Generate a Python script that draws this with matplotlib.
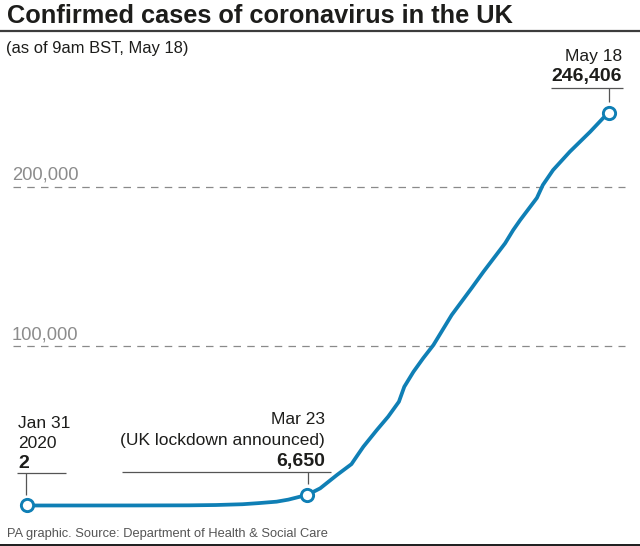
import matplotlib
matplotlib.use("Agg")
import matplotlib.pyplot as plt

plt.rcParams['font.family'] = ['Liberation Sans', 'DejaVu Sans']

# days since Jan 31 2020
days = [0, 10, 20, 30, 35, 40, 43, 46.3, 48.5, 50.6, 52, 54.4, 57.5, 60.2, 61.2, 62.4, 64.9, 67, 69, 70, 71.7,
        73.5, 75.4, 78.8, 82.5, 84.7, 88.7, 90.2, 91.5, 94.6, 95.7, 97.6, 100.7, 104.5, 106.9, 108]
cases = [2, 10, 30, 100, 300, 800, 1500, 2400, 3700, 5500, 6650, 10800, 19160, 26000, 31000, 36900, 47400, 55800,
         65200, 74600, 84000, 92500, 100800, 119700, 136600, 146900, 164700, 173000, 179300,
         193200, 201300, 210700, 222200, 234800, 243400, 246406]
marker_days = [0, 52, 108]
marker_cases = [2, 6650, 246406]
grid_values = [100000, 200000]
grid_labels = ["100,000", "200,000"]

BLUE = "#0f7fb5"
DARK = "#1d1d1b"
GREY = "#8c8c8c"
W, H = 640, 546
X0, PX_DAY = 27.0, 5.39
Y0, PX_K = 505.5, 1.592

fig = plt.figure(figsize=(W / 100, H / 100), dpi=100, facecolor="white")
ax = fig.add_axes([0, 0, 1, 1])
ax.set_xlim((0 - X0) / PX_DAY, (W - X0) / PX_DAY)
ax.set_ylim((Y0 - H) / PX_K * 1000, Y0 / PX_K * 1000)
ax.axis("off")

for g in grid_values:
    ax.plot([(13 - X0) / PX_DAY, (625 - X0) / PX_DAY], [g, g], color="#8a8a8a", lw=0.9,
            dashes=(6, 5), zorder=1)
ax.plot(days, cases, color=BLUE, lw=2.7, solid_capstyle="round", solid_joinstyle="round", zorder=3)
ax.plot(marker_days, marker_cases, ls="none", marker="o", ms=8.8, mfc="white", mec=BLUE, mew=2.1, zorder=4)

# overlay in pixel coordinates for chrome
ov = fig.add_axes([0, 0, 1, 1], facecolor="none")
ov.set_xlim(0, W)
ov.set_ylim(H, 0)
ov.axis("off")

ov.text(7, 23, "Confirmed cases of coronavirus in the UK", fontsize=18.3, fontweight="bold",
        color=DARK, va="baseline", ha="left")
ov.plot([0, W], [30.5, 30.5], color="#3c3c3c", lw=1.6, solid_capstyle="butt")
ov.text(6, 53, "(as of 9am BST, May 18)", fontsize=11.9, color=DARK, va="baseline", ha="left")

ov.text(12, 180, grid_labels[1], fontsize=13.2, color=GREY, va="baseline", ha="left")
ov.text(12, 340, grid_labels[0], fontsize=13.2, color=GREY, va="baseline", ha="left")

line_c = "#555555"
for xs, ys in [([17, 66], [472.7, 472.7]), ([26, 26], [472.7, 495]),
               ([122, 331], [472, 472]), ([308, 308], [472, 484]),
               ([551, 623], [88.3, 88.3]), ([608.7, 608.7], [88.3, 102])]:
    ov.plot(xs, ys, color=line_c, lw=0.9, solid_capstyle="butt")

ft = 12.5
fb = 14
ov.text(18, 428, "Jan 31", fontsize=ft, color=DARK, va="baseline", ha="left")
ov.text(18, 448, "2020", fontsize=ft, color=DARK, va="baseline", ha="left")
ov.text(18, 468, "2", fontsize=fb, fontweight="bold", color=DARK, va="baseline", ha="left")
ov.text(325, 424, "Mar 23", fontsize=ft, color=DARK, va="baseline", ha="right")
ov.text(325, 445, "(UK lockdown announced)", fontsize=ft, color=DARK, va="baseline", ha="right")
ov.text(325, 466, "6,650", fontsize=fb, fontweight="bold", color=DARK, va="baseline", ha="right")
ov.text(622, 61, "May 18", fontsize=ft, color=DARK, va="baseline", ha="right")
ov.text(622, 81, "246,406", fontsize=fb, fontweight="bold", color=DARK, va="baseline", ha="right")

ov.text(7, 537, "PA graphic. Source: Department of Health & Social Care", fontsize=9.3,
        color="#555555", va="baseline", ha="left")
ov.fill_between([0, W], 543.5, 546, color="#222222", lw=0)

fig.savefig("out.png", dpi=100, facecolor="white")
